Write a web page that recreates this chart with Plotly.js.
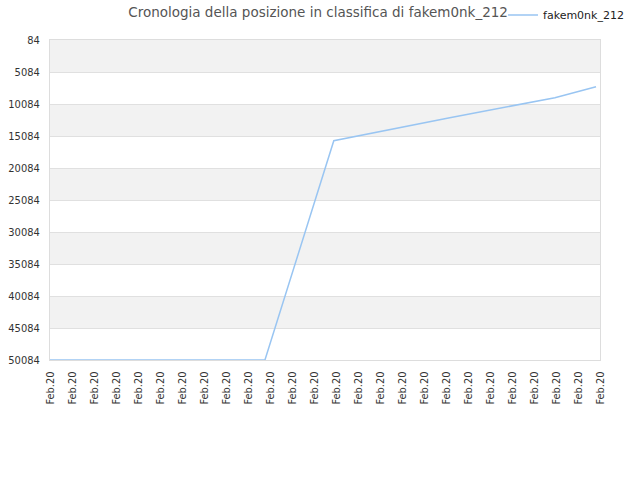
<!DOCTYPE html>
<html>
<head>
<meta charset="utf-8">
<script src="https://cdn.plot.ly/plotly-3.0.1.min.js"></script>
<style>
  html, body { margin: 0; padding: 0; background: #fff; }
  #chart-area { width: 640px; height: 480px; }
</style>
</head>
<body>
<div id="chart-area"></div>
<script>
// tick labels along the bottom, all the same month
const tickLabels = new Array(26).fill("Feb.20");
const tickPositions = tickLabels.map((_, i) => i);

// position history (x in tick units, y = rank)
const dates = [0, 9.77, 12.9, 18.17, 22.95, 24.82];
const ranks = [50084, 50084, 15818, 12225, 9100, 7381];

const rankTicks = [84, 5084, 10084, 15084, 20084, 25084, 30084, 35084, 40084, 45084, 50084];

const playerName = "fakem0nk_212";

const condensed = "DejaVu Sans Condensed, DejaVu Sans, sans-serif";

// grey bands every other tick interval, starting at the top
let bands = [];
for (let i = 0; i < rankTicks.length - 1; i += 2) {
  bands.push({
    type: "rect",
    xref: "paper",
    yref: "y",
    x0: 0,
    x1: 1,
    y0: rankTicks[i],
    y1: rankTicks[i + 1],
    fillcolor: "#f2f2f2",
    line: { width: 0 },
    layer: "below",
  });
}

let data = [
  {
    x: dates,
    y: ranks,
    type: "scatter",
    mode: "lines",
    name: playerName,
    line: { color: "#99c5f2", width: 1.5 },
    hoverinfo: "none",
  },
];

let layout = {
  width: 640,
  height: 480,
  margin: { l: 50, r: 40, t: 40, b: 120 },
  paper_bgcolor: "#fff",
  plot_bgcolor: "#fff",
  font: { family: "DejaVu Sans, sans-serif", size: 11, color: "#333" },
  title: {
    text: "Cronologia della posizione in classifica di " + playerName,
    font: { size: 13.5, color: "#555" },
    x: 0.497,
    xanchor: "center",
    y: 0.975,
    yanchor: "middle",
  },
  showlegend: true,
  legend: {
    xref: "container",
    yref: "container",
    x: 0.786,
    y: 0.969,
    xanchor: "left",
    yanchor: "middle",
    orientation: "h",
    bgcolor: "rgba(0,0,0,0)",
    font: { family: "DejaVu Sans, sans-serif", size: 11, color: "#222" },
    itemwidth: 30,
  },
  xaxis: {
    range: [0, 25],
    tickvals: tickPositions,
    ticktext: tickLabels,
    tickangle: -90,
    showgrid: false,
    zeroline: false,
    showline: true,
    mirror: true,
    linecolor: "#ddd",
    linewidth: 1,
    ticks: "",
    ticklabelstandoff: 6,
    tickfont: { family: condensed, size: 11, color: "#333" },
    fixedrange: true,
  },
  yaxis: {
    range: [50084, 84],
    tickvals: rankTicks,
    ticktext: rankTicks.map(String),
    showgrid: true,
    gridcolor: "#e0e0e0",
    zeroline: false,
    showline: true,
    mirror: true,
    linecolor: "#ddd",
    linewidth: 1,
    ticks: "",
    ticklabelstandoff: 7,
    tickfont: { family: condensed, size: 11, color: "#333" },
    fixedrange: true,
  },
  shapes: bands,
};

var config = { staticPlot: true };

Plotly.newPlot("chart-area", data, layout, config);
</script>
</body>
</html>
